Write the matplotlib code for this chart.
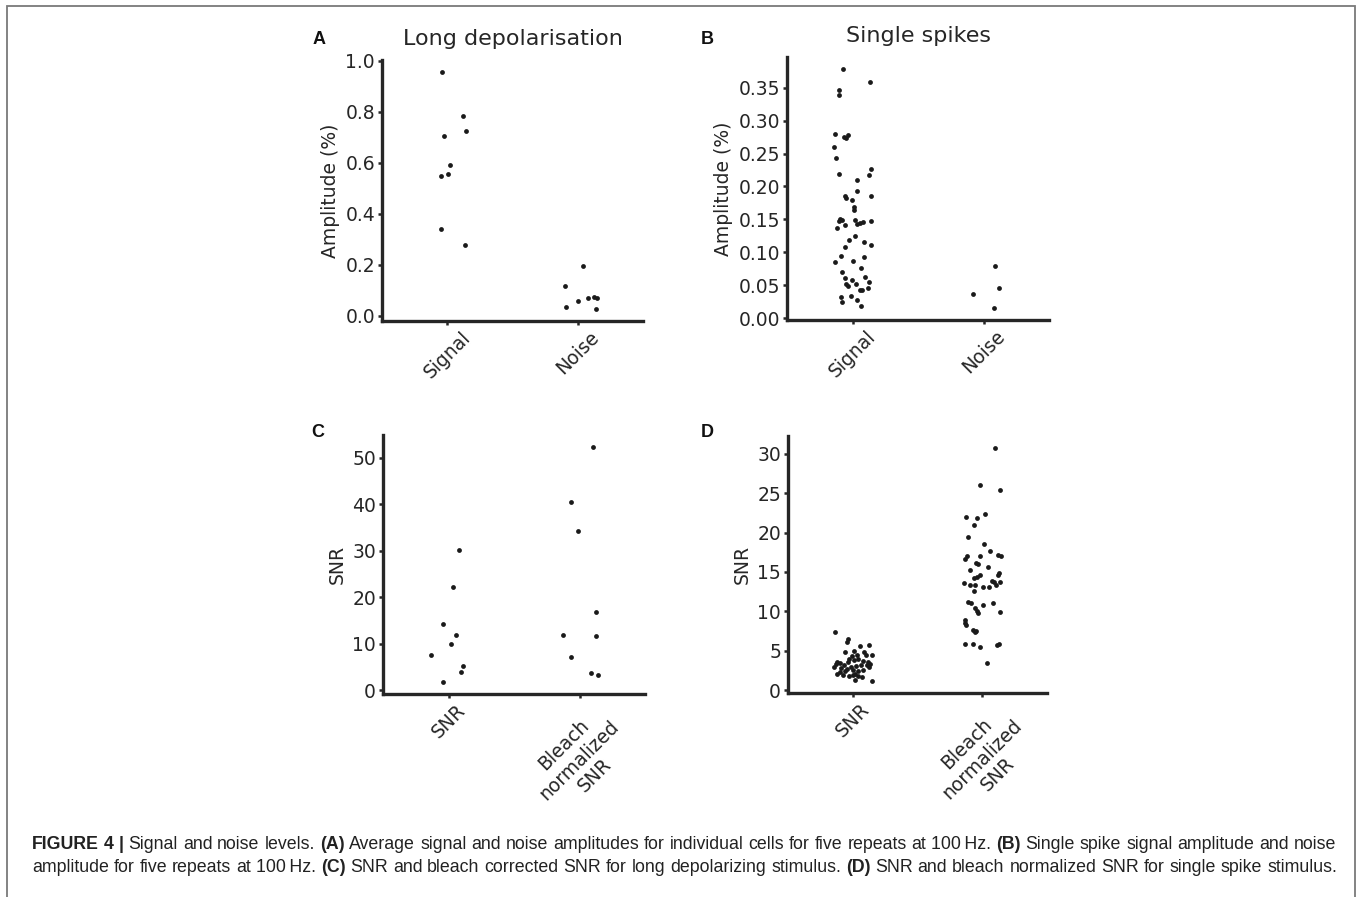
import numpy as np
import matplotlib.pyplot as plt
from matplotlib.patches import Rectangle

# --- data (values, and horizontal jitter in category units) ---
cats_amp = ['Signal', 'Noise']
cats_snr = ['SNR', 'Bleach\nnormalized\nSNR']

# A: long depolarisation, amplitude (%)
a_signal = [0.957, 0.785, 0.707, 0.723, 0.591, 0.547, 0.556, 0.340, 0.276]
a_signal_jit = [-0.041, 0.123, -0.028, 0.143, 0.02, -0.046, 0.003, -0.046, 0.136]
a_noise = [0.196, 0.114, 0.034, 0.055, 0.067, 0.072, 0.070, 0.025]
a_noise_jit = [0.043, -0.10, -0.09, 0.0, 0.082, 0.128, 0.148, 0.14]

# B: single spikes, amplitude (%)
b_signal = [0.3785, 0.359, 0.346, 0.339, 0.280, 0.2756, 0.274, 0.2787, 0.260, 0.2425,
            0.2196, 0.227, 0.218, 0.2104, 0.193, 0.186, 0.182, 0.179, 0.185, 0.1686,
            0.1646, 0.150, 0.147, 0.1498, 0.1365, 0.1416, 0.149, 0.143, 0.145, 0.146,
            0.148, 0.118, 0.124, 0.1157, 0.1106, 0.1075, 0.086, 0.094, 0.087, 0.093,
            0.0708, 0.076, 0.0606, 0.049, 0.0576, 0.0525, 0.0627, 0.0555, 0.0433, 0.0428,
            0.0453, 0.0525, 0.0326, 0.0245, 0.0336, 0.0275, 0.0183]
b_signal_jit = [-0.074, 0.133, -0.10, -0.10, -0.133, -0.066, -0.05, -0.035, -0.14, -0.125,
                -0.105, 0.14, 0.125, 0.038, 0.038, -0.061, -0.05, -0.005, 0.143, 0.015,
                0.015, -0.092, -0.102, -0.077, -0.115, -0.054, 0.02, 0.038, 0.059, 0.077,
                0.143, -0.028, 0.02, 0.084, 0.138, -0.054, -0.13, -0.084, 0.003, 0.09,
                -0.079, 0.066, -0.059, -0.038, -0.003, 0.026, 0.094, 0.125, 0.054, 0.074,
                0.115, -0.046, -0.087, -0.077, -0.01, 0.038, 0.066]
b_noise = [0.0785, 0.0464, 0.0372, 0.0153]
b_noise_jit = [0.087, 0.117, -0.082, 0.077]

# C: long depolarisation, SNR
c_snr = [30.24, 22.27, 14.22, 11.93, 9.99, 7.54, 5.17, 3.88, 1.72]
c_snr_jit = [0.079, 0.038, -0.044, 0.054, 0.018, -0.131, 0.11, 0.092, -0.044]
c_bleach = [52.37, 40.59, 34.34, 16.81, 11.85, 11.64, 7.11, 3.66, 3.38]
c_bleach_jit = [0.105, -0.067, -0.015, 0.128, -0.123, 0.128, -0.067, 0.085, 0.144]

# D: single spikes, SNR
d_snr = [7.44, 6.51, 6.08, 5.62, 5.70, 4.94, 4.82, 4.82, 4.48, 4.48, 4.39, 4.52, 3.63,
         3.38, 3.46, 4.01, 3.80, 3.97, 3.68, 3.55, 3.34, 3.17, 3.55, 3.00, 3.13, 3.17,
         2.92, 2.83, 2.66, 2.58, 2.45, 2.62, 2.92, 2.07, 1.99, 1.86, 1.94, 1.77, 1.65,
         1.27, 1.14, 3.25, 2.41, 2.07, 2.28]
d_snr_jit = [-0.138, -0.039, -0.047, 0.057, 0.125, 0.013, -0.057, 0.086, 0.148, 0.036,
             -0.005, 0.106, -0.125, -0.132, -0.099, -0.026, 0.010, 0.044, 0.081, 0.117,
             0.135, -0.070, -0.036, -0.013, 0.026, 0.062, -0.148, -0.094, -0.047, 0.0,
             0.044, 0.083, 0.125, -0.125, -0.078, -0.026, 0.005, 0.044, 0.075, 0.021,
             0.148, 0.109, -0.060, 0.018, -0.099]
d_bleach = [30.76, 25.99, 25.44, 22.35, 21.93, 21.80, 20.96, 19.39, 18.55, 17.03, 17.66,
            17.15, 17.07, 16.69, 16.99, 16.14, 15.97, 15.59, 15.21, 14.87, 14.58, 14.58,
            14.20, 14.32, 13.65, 13.35, 13.31, 13.10, 13.06, 13.90, 13.69, 13.35, 13.77,
            12.63, 11.15, 11.07, 10.82, 11.03, 10.39, 10.10, 9.76, 9.97, 8.96, 8.58, 8.32,
            7.61, 7.39, 7.56, 5.87, 5.87, 5.54, 5.70, 5.87, 3.46]
d_bleach_jit = [0.099, -0.021, 0.14, 0.021, -0.122, -0.042, -0.06, -0.112, 0.01, -0.018,
                0.06, 0.122, 0.148, -0.132, -0.117, -0.052, -0.036, 0.042, -0.094, 0.127,
                0.122, -0.018, -0.06, -0.044, -0.143, -0.091, -0.055, 0.005, 0.052, 0.073,
                0.094, 0.104, 0.135, -0.065, -0.112, -0.086, 0.005, 0.083, -0.055, -0.042,
                -0.029, 0.135, -0.132, -0.13, -0.122, -0.073, -0.057, -0.047, -0.13, -0.075,
                -0.018, 0.114, 0.13, 0.039]

a_ticks = [0.0, 0.2, 0.4, 0.6, 0.8, 1.0]
b_ticks = [0.00, 0.05, 0.10, 0.15, 0.20, 0.25, 0.30, 0.35]
c_ticks = [0, 10, 20, 30, 40, 50]
d_ticks = [0, 5, 10, 15, 20, 25, 30]

W, H = 1357, 897
dark = '#262626'
plt.rcParams['font.family'] = ['DejaVu Sans']

fig = plt.figure(figsize=(W / 100, H / 100), dpi=100)

def px_axes(left, top, right, bottom):
    return fig.add_axes([left / W, 1 - bottom / H, (right - left) / W, (bottom - top) / H])

def strip(ax, groups, cats, ticks, fmt, ylabel, title=None):
    for i, (vals, jit) in enumerate(groups):
        ax.scatter(i + np.array(jit), vals, s=12, color='#1a1a1a', linewidths=0, zorder=3)
    ax.set_xlim(-0.5, 1.5)
    ax.margins(y=0.05)
    ax.set_xticks(range(len(cats)))
    ax.set_xticklabels(cats, rotation=45, ha='center', multialignment='center',
                       fontsize=13.5, color=dark)
    ax.set_yticks(ticks)
    ax.set_yticklabels([fmt.format(t) for t in ticks], fontsize=13.5, color=dark)
    ax.set_ylabel(ylabel, fontsize=13.5, color=dark)
    for s in ['top', 'right']:
        ax.spines[s].set_visible(False)
    for s in ['left', 'bottom']:
        ax.spines[s].set_linewidth(2.4)
        ax.spines[s].set_color(dark)
    ax.tick_params(length=3, width=1.8, color=dark, pad=2)
    if title:
        ax.set_title(title, fontsize=16, color=dark, pad=11)

axA = px_axes(382, 60, 643, 321)
strip(axA, [(a_signal, a_signal_jit), (a_noise, a_noise_jit)], cats_amp, a_ticks,
      '{:.1f}', 'Amplitude (%)', 'Long depolarisation')
axB = px_axes(787, 57, 1049, 320)
strip(axB, [(b_signal, b_signal_jit), (b_noise, b_noise_jit)], cats_amp, b_ticks,
      '{:.2f}', 'Amplitude (%)', 'Single spikes')
axC = px_axes(383, 435, 645, 694)
strip(axC, [(c_snr, c_snr_jit), (c_bleach, c_bleach_jit)], cats_snr, c_ticks,
      '{:d}', 'SNR')
axD = px_axes(788, 436, 1047, 693)
strip(axD, [(d_snr, d_snr_jit), (d_bleach, d_bleach_jit)], cats_snr, d_ticks,
      '{:d}', 'SNR')

# panel letters
for letter, x, y in [('A', 319, 39), ('B', 707, 39), ('C', 318, 432), ('D', 707, 432)]:
    fig.text(x / W, 1 - y / H, letter, fontsize=13, fontweight='bold',
             family='Liberation Sans', ha='center', va='center', color='#111111')

# frame around the figure (open at the bottom)
fig.add_artist(Rectangle((7 / W, -0.05), (1355 - 7) / W, 1.05 - 6 / H,
                         transform=fig.transFigure, fill=False, edgecolor='#7a7a7a',
                         linewidth=1.3, clip_on=False))

# caption with bold pieces, justified like the journal layout
renderer = fig.canvas.get_renderer()

line1 = ('FIGURE 4 | Signal and noise levels. (A) Average signal and noise amplitudes '
         'for individual cells for five repeats at 100Hz. (B) Single spike signal '
         'amplitude and noise')
line2 = ('amplitude for five repeats at 100Hz. (C) SNR and bleach corrected SNR for long '
         'depolarizing stimulus. (D) SNR and bleach normalized SNR for single spike stimulus.')
bold_words = {'FIGURE', '4', '|', '(A)', '(B)', '(C)', '(D)'}

def make_parts(line):
    return [(w.replace('100Hz', '100\u2009Hz'), w in bold_words) for w in line.split(' ')]

def text_width(s, bold, size):
    t = fig.text(0, 0, s, fontsize=size, family='Liberation Sans',
                 fontweight='bold' if bold else 'normal')
    w = t.get_window_extent(renderer).width
    t.remove()
    return w

def natural_width(parts, size):
    space = text_width('a a', False, size) - text_width('aa', False, size)
    return sum(text_width(p, b, size) for p, b in parts) + space * (len(parts) - 1)

def caption_line(parts, x0, x1, y, size):
    widths = [text_width(p, b, size) for p, b in parts]
    gap = (x1 - x0 - sum(widths)) / (len(parts) - 1)
    x = x0
    for (p, b), w in zip(parts, widths):
        fig.text(x / W, 1 - y / H, p, fontsize=size, family='Liberation Sans',
                 fontweight='bold' if b else 'normal', color='#222222', va='baseline')
        x += w + gap

parts1, parts2 = make_parts(line1), make_parts(line2)
cap_size = 10 * (1337 - 32) / max(natural_width(parts1, 10), natural_width(parts2, 10))

caption_line(parts1, 32, 1336, 849, cap_size)
caption_line(parts2, 32, 1337, 872, cap_size)

fig.savefig('out.png', dpi=100)
